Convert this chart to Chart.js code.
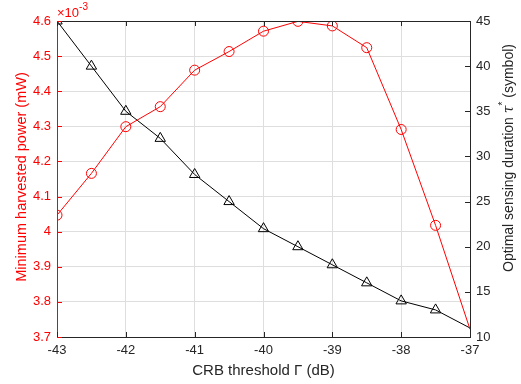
<!DOCTYPE html>
<html>
<head>
<meta charset="utf-8">
<script src="https://cdn.jsdelivr.net/npm/chart.js@4.4.0/dist/chart.umd.min.js"></script>
<style>
  html, body { margin: 0; padding: 0; background: #fff; }
  #wrap { width: 521px; height: 384px; }
</style>
</head>
<body>
<div id="wrap"><canvas id="c" width="521" height="384"></canvas></div>
<script>
// CRB threshold (dB)
var thresholds = [-43, -42.5, -42, -41.5, -41, -40.5, -40, -39.5, -39, -38.5, -38, -37.5, -37];
// minimum harvested power, in units of 1e-3 mW
var minPower = [4.047, 4.166, 4.299, 4.356, 4.460, 4.513, 4.571, 4.599, 4.586, 4.524, 4.291, 4.018, 3.722];
// optimal sensing duration (symbols)
var senseDur = [45, 40, 35, 32, 28, 25, 22, 20, 18, 16, 14, 13, 11];
var xTicks = [-43, -42, -41, -40, -39, -38, -37];

var font = "'Liberation Sans', Arial, sans-serif";
var red = 'rgb(255,0,0)';
var dark = '#262626';

// no marker drawn at the right edge
function radii(r) {
    return thresholds.map(function(t, i) { return i === thresholds.length - 1 ? 0 : r; });
}

// MATLAB style inward ticks, top box line, exponent label and y titles
var boxPlugin = {
    id: 'box',
    afterDraw: function(chart) {
        var ctx = chart.ctx;
        var a = chart.chartArea;
        var sx = chart.scales.x, sl = chart.scales.yL, sr = chart.scales.yR;
        ctx.save();
        ctx.lineWidth = 1;
        ctx.strokeStyle = dark;
        ctx.beginPath();
        ctx.moveTo(a.left, a.top + 0.5);
        ctx.lineTo(a.right, a.top + 0.5);
        for (var i = 0; i < xTicks.length; i++) {
            var px = Math.round(sx.getPixelForValue(xTicks[i])) + 0.5;
            ctx.moveTo(px, a.bottom);
            ctx.lineTo(px, a.bottom - 5);
            ctx.moveTo(px, a.top);
            ctx.lineTo(px, a.top + 5);
        }
        for (var v = 10; v <= 45; v += 5) {
            var py = Math.round(sr.getPixelForValue(v)) + 0.5;
            ctx.moveTo(a.right, py);
            ctx.lineTo(a.right - 5, py);
        }
        ctx.stroke();
        ctx.strokeStyle = red;
        ctx.beginPath();
        for (var k = 0; k <= 9; k++) {
            var py2 = Math.round(sl.getPixelForValue(3.7 + k * 0.1)) + 0.5;
            ctx.moveTo(a.left, py2);
            ctx.lineTo(a.left + 5, py2);
        }
        ctx.stroke();

        // x10^-3
        ctx.fillStyle = red;
        ctx.font = '13px ' + font;
        ctx.textBaseline = 'alphabetic';
        ctx.fillText('\u00d710', a.left, a.top - 4);
        var w = ctx.measureText('\u00d710').width;
        ctx.font = '10px ' + font;
        ctx.fillText('-3', a.left + w, a.top - 11);

        // left title
        ctx.save();
        ctx.translate(26, 177);
        ctx.rotate(-Math.PI / 2);
        ctx.font = '14.5px ' + font;
        ctx.textAlign = 'center';
        ctx.fillStyle = red;
        ctx.fillText('Minimum harvested power (mW)', 0, 0);
        ctx.restore();

        // right title
        ctx.save();
        ctx.translate(513, 272);
        ctx.rotate(-Math.PI / 2);
        ctx.textAlign = 'left';
        ctx.fillStyle = dark;
        var parts = [
            ['Optimal sensing duration ', '14px ' + font, 0],
            ['\u03c4', 'italic 14px ' + "'DejaVu Serif', serif", 0],
            ['*', '10px ' + font, -7],
            [' (symbol)', '14px ' + font, 0]
        ];
        var x = 0;
        for (var p = 0; p < parts.length; p++) {
            ctx.font = parts[p][1];
            ctx.fillText(parts[p][0], x, parts[p][2]);
            x += ctx.measureText(parts[p][0]).width;
        }
        ctx.restore();
        ctx.restore();
    }
};

new Chart(document.getElementById('c'), {
    type: 'line',
    data: {
        datasets: [{
            label: 'Minimum harvested power',
            data: thresholds.map(function(t, i) { return { x: t, y: minPower[i] }; }),
            yAxisID: 'yL',
            borderColor: red,
            borderWidth: 1,
            pointStyle: 'circle',
            pointRadius: radii(5),
            pointBorderColor: red,
            pointBackgroundColor: 'rgba(0,0,0,0)',
            pointBorderWidth: 1
        }, {
            label: 'Optimal sensing duration',
            data: thresholds.map(function(t, i) { return { x: t, y: senseDur[i] }; }),
            yAxisID: 'yR',
            borderColor: '#000',
            borderWidth: 1,
            pointStyle: 'triangle',
            pointRadius: radii(6),
            pointBorderColor: '#000',
            pointBackgroundColor: 'rgba(0,0,0,0)',
            pointBorderWidth: 1
        }]
    },
    options: {
        responsive: false,
        animation: false,
        layout: { padding: { top: 21, left: 0, right: 0, bottom: 0 } },
        plugins: { legend: { display: false }, tooltip: { enabled: false } },
        scales: {
            x: {
                type: 'linear',
                min: -43,
                max: -37,
                afterBuildTicks: function(s) { s.ticks = xTicks.map(function(v) { return { value: v }; }); },
                afterFit: function(s) { s.height = 47; },
                grid: { color: '#dedede', drawTicks: false },
                border: { color: dark },
                ticks: { color: dark, padding: 6, font: { family: font, size: 13 } },
                title: {
                    display: true,
                    text: 'CRB threshold \u0393 (dB)',
                    color: dark,
                    padding: { top: 2 },
                    font: { family: font, size: 15 }
                }
            },
            yL: {
                type: 'linear',
                position: 'left',
                min: 3.7,
                max: 4.6,
                afterBuildTicks: function(s) {
                    var t = [];
                    for (var k = 0; k <= 9; k++) t.push({ value: Math.round((3.7 + k * 0.1) * 10) / 10 });
                    s.ticks = t;
                },
                afterFit: function(s) { s.width = 57; },
                grid: { color: '#dedede', drawTicks: false },
                border: { color: red },
                ticks: {
                    color: red,
                    padding: 6,
                    font: { family: font, size: 13 },
                    callback: function(v) { return String(Math.round(v * 10) / 10); }
                }
            },
            yR: {
                type: 'linear',
                position: 'right',
                min: 10,
                max: 45,
                afterBuildTicks: function(s) {
                    var t = [];
                    for (var v = 10; v <= 45; v += 5) t.push({ value: v });
                    s.ticks = t;
                },
                afterFit: function(s) { s.width = 51; },
                grid: { display: false, drawTicks: false },
                border: { color: dark },
                ticks: { color: dark, padding: 6, font: { family: font, size: 13 } }
            }
        }
    },
    plugins: [boxPlugin]
});
</script>
</body>
</html>
